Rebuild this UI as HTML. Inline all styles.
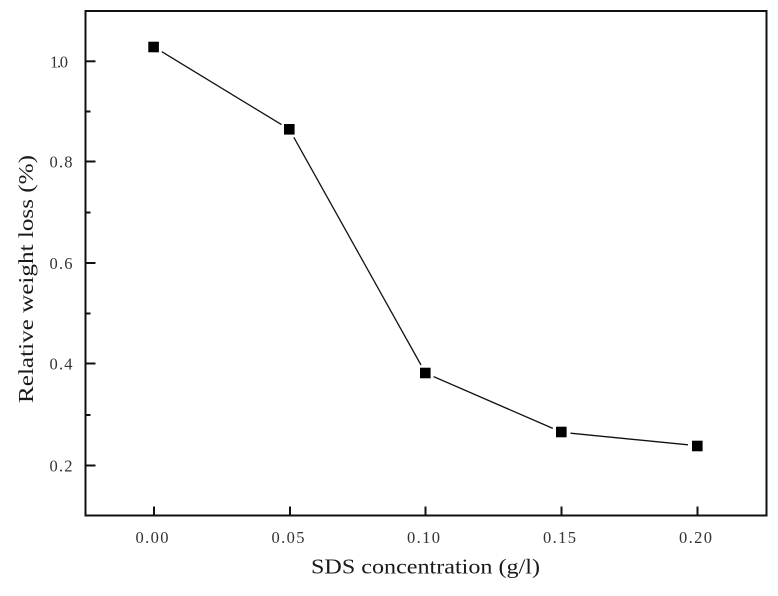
<!DOCTYPE html>
<html>
<head>
<meta charset="utf-8">
<style>
html,body{margin:0;padding:0;background:#fff;}
svg{display:block;}
text{font-family:"Liberation Serif","Times New Roman",serif;}
</style>
</head>
<body>
<svg width="778" height="596" viewBox="0 0 778 596" xmlns="http://www.w3.org/2000/svg">
<rect x="0" y="0" width="778" height="596" fill="#fff"/>
<!-- axes box -->
<rect x="85.5" y="11" width="681" height="504.5" fill="none" stroke="#111" stroke-width="2"/>
<g stroke="#111" stroke-width="2">
<line x1="85.5" y1="61.3" x2="95.5" y2="61.3"/>
<line x1="85.5" y1="161.5" x2="95.5" y2="161.5"/>
<line x1="85.5" y1="263" x2="95.5" y2="263"/>
<line x1="85.5" y1="363.5" x2="95.5" y2="363.5"/>
<line x1="85.5" y1="465.5" x2="95.5" y2="465.5"/>
<line x1="85.5" y1="111.5" x2="90.5" y2="111.5"/>
<line x1="85.5" y1="212.5" x2="90.5" y2="212.5"/>
<line x1="85.5" y1="313.5" x2="90.5" y2="313.5"/>
<line x1="85.5" y1="415" x2="90.5" y2="415"/>
<line x1="154" y1="515.5" x2="154" y2="506.5"/>
<line x1="290" y1="515.5" x2="290" y2="506.5"/>
<line x1="425.5" y1="515.5" x2="425.5" y2="506.5"/>
<line x1="561.5" y1="515.5" x2="561.5" y2="506.5"/>
<line x1="697.5" y1="515.5" x2="697.5" y2="506.5"/>
</g>
<g fill="#333" font-size="16.5" text-anchor="end">
<text x="68" y="67.5" textLength="18" lengthAdjust="spacing">1.0</text>
<text x="72.5" y="167.5" textLength="23" lengthAdjust="spacing">0.8</text>
<text x="72.5" y="269" textLength="23" lengthAdjust="spacing">0.6</text>
<text x="72.5" y="369.3" textLength="23" lengthAdjust="spacing">0.4</text>
<text x="72.5" y="471.5" textLength="23" lengthAdjust="spacing">0.2</text>
</g>
<g fill="#333" font-size="16.5">
<text x="135.5" y="543" textLength="33" lengthAdjust="spacing">0.00</text>
<text x="271.5" y="543" textLength="33" lengthAdjust="spacing">0.05</text>
<text x="407" y="543" textLength="33" lengthAdjust="spacing">0.10</text>
<text x="543" y="543" textLength="33" lengthAdjust="spacing">0.15</text>
<text x="679" y="543" textLength="33" lengthAdjust="spacing">0.20</text>
</g>
<text x="311" y="573.5" font-size="21" fill="#1a1a1a" textLength="229" lengthAdjust="spacingAndGlyphs">SDS concentration (g/l)</text>
<text transform="translate(33,403) rotate(-90)" x="0" y="0" font-size="21" fill="#1a1a1a" textLength="248" lengthAdjust="spacingAndGlyphs">Relative weight loss (%)</text>
<g stroke="#111" stroke-width="1.3" fill="none">
<line x1="161.8" y1="51.7" x2="281.5" y2="124.6"/>
<line x1="293.8" y1="137.3" x2="421" y2="365"/>
<line x1="433.6" y1="376.6" x2="552.8" y2="428.4"/>
<line x1="570.5" y1="433.2" x2="688" y2="444.8"/>
</g>
<g fill="#000">
<rect x="148.3" y="41.7" width="10.6" height="10.6"/>
<rect x="284" y="124" width="10.6" height="10.6"/>
<rect x="420" y="367.7" width="10.6" height="10.6"/>
<rect x="556" y="426.7" width="10.6" height="10.6"/>
<rect x="692" y="440.7" width="10.6" height="10.6"/>
</g>
</svg>
</body>
</html>
